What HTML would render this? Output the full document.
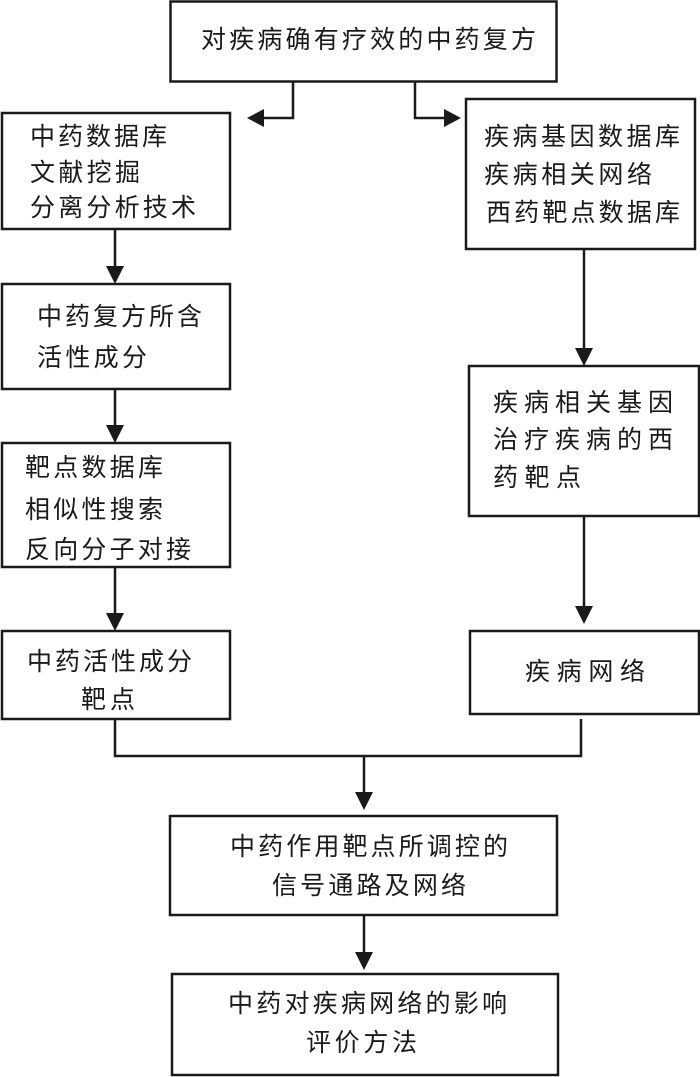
<!DOCTYPE html>
<html><head><meta charset="utf-8"><style>
html,body{margin:0;padding:0;background:#fff;}
svg{display:block;}
text{font-family:"Liberation Sans","Noto Sans CJK SC","WenQuanYi Zen Hei",sans-serif;font-size:25px;fill:#1a1a1a;dominant-baseline:central;}
</style></head><body>
<svg width="700" height="1077" viewBox="0 0 700 1077" xmlns="http://www.w3.org/2000/svg">
<g fill="none" stroke="#1a1a1a" stroke-width="2.5">
<rect x="170.5" y="1.5" width="386" height="80"/>
<rect x="2" y="113" width="228" height="116"/>
<rect x="466" y="99" width="229" height="150"/>
<rect x="2" y="284" width="228" height="105"/>
<rect x="469" y="366" width="230" height="150"/>
<rect x="2" y="443" width="228" height="124"/>
<rect x="2" y="631" width="228" height="88"/>
<rect x="470" y="631" width="229" height="83"/>
<rect x="170" y="816" width="387" height="99"/>
<rect x="172" y="974" width="386" height="101"/>
<polyline points="293,81 293,118 260,118"/>
<polyline points="415,81 415,118 447,118"/>
<line x1="115" y1="229" x2="115" y2="270"/>
<line x1="584" y1="249" x2="584" y2="350"/>
<line x1="115" y1="389" x2="115" y2="428"/>
<line x1="584" y1="516" x2="584" y2="610"/>
<line x1="115" y1="567" x2="115" y2="616"/>
<polyline points="115,719 115,756 581,756 581,719"/>
<line x1="364" y1="756" x2="364" y2="796"/>
<line x1="364" y1="915" x2="364" y2="956"/>
</g>
<g fill="#1a1a1a">
<polygon points="247,118 264,109 264,127"/>
<polygon points="461,118 444,109 444,127"/>
<polygon points="115,284 106,266 124,266"/>
<polygon points="584,366 575,348 593,348"/>
<polygon points="115,443 106,425 124,425"/>
<polygon points="584,624 575,606 593,606"/>
<polygon points="115,631 106,613 124,613"/>
<polygon points="364,810 355,792 373,792"/>
<polygon points="364,970 355,952 373,952"/>
</g>
<text x="201" y="40" textLength="335" lengthAdjust="spacing">对疾病确有疗效的中药复方</text>
<text x="30" y="137" textLength="137" lengthAdjust="spacing">中药数据库</text>
<text x="30" y="173" textLength="110" lengthAdjust="spacing">文献挖掘</text>
<text x="30" y="208" textLength="166" lengthAdjust="spacing">分离分析技术</text>
<text x="484" y="137" textLength="196" lengthAdjust="spacing">疾病基因数据库</text>
<text x="484" y="175" textLength="168" lengthAdjust="spacing">疾病相关网络</text>
<text x="486" y="213" textLength="194" lengthAdjust="spacing">西药靶点数据库</text>
<text x="37" y="317" textLength="165" lengthAdjust="spacing">中药复方所含</text>
<text x="37" y="358" textLength="110" lengthAdjust="spacing">活性成分</text>
<text x="493" y="403" textLength="180" lengthAdjust="spacing">疾病相关基因</text>
<text x="493" y="440" textLength="180" lengthAdjust="spacing">治疗疾病的西</text>
<text x="493" y="478" textLength="88" lengthAdjust="spacing">药靶点</text>
<text x="25" y="468" textLength="138" lengthAdjust="spacing">靶点数据库</text>
<text x="25" y="510" textLength="138" lengthAdjust="spacing">相似性搜索</text>
<text x="25" y="550" textLength="166" lengthAdjust="spacing">反向分子对接</text>
<text x="27" y="662" textLength="165" lengthAdjust="spacing">中药活性成分</text>
<text x="81" y="700" textLength="54" lengthAdjust="spacing">靶点</text>
<text x="525" y="672" textLength="120" lengthAdjust="spacing">疾病网络</text>
<text x="230" y="847" textLength="278" lengthAdjust="spacing">中药作用靶点所调控的</text>
<text x="272" y="886" textLength="194" lengthAdjust="spacing">信号通路及网络</text>
<text x="228" y="1004" textLength="279" lengthAdjust="spacing">中药对疾病网络的影响</text>
<text x="306" y="1043" textLength="111" lengthAdjust="spacing">评价方法</text>
</svg>
</body></html>
